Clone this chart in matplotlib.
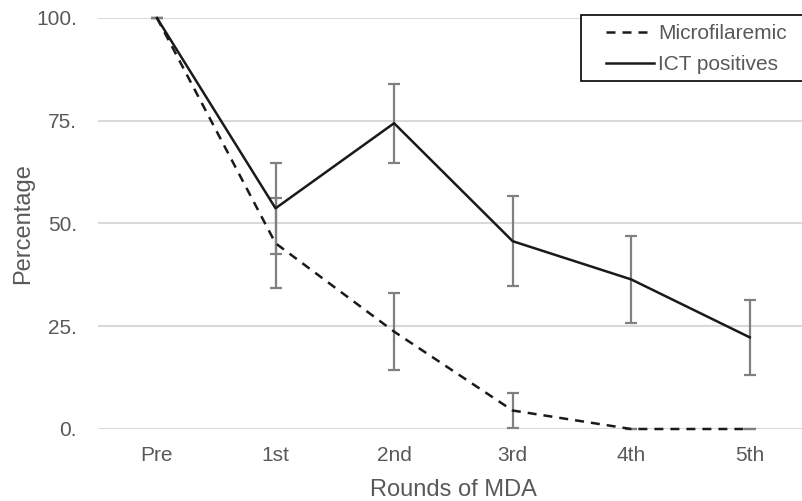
import matplotlib
matplotlib.use("Agg")
import matplotlib.pyplot as plt
from matplotlib.ticker import FuncFormatter
from matplotlib.patches import Rectangle

plt.rcParams['font.family'] = ['Liberation Sans', 'DejaVu Sans']

rounds = ["Pre", "1st", "2nd", "3rd", "4th", "5th"]
micro = [100, 45.2, 23.7, 4.5, 0, 0]
micro_err = [0, 10.9, 9.3, 4.3, 0, 0]
ict = [100, 53.7, 74.4, 45.7, 36.4, 22.3]
ict_err = [0, 11.0, 9.6, 11.0, 10.6, 9.2]
yticks = [0, 25, 50, 75, 100]

W, H = 802, 501
fig = plt.figure(figsize=(W / 100, H / 100), dpi=100)
ax = fig.add_axes([97.7 / W, (H - 429) / H, (809 - 97.7) / W, 411 / H])

x = list(range(len(rounds)))
txt = '#595959'
errc = '#808080'

ax.errorbar(x, micro, yerr=micro_err, fmt='none', ecolor=errc, elinewidth=1.6,
            capsize=4, capthick=1.6, zorder=2, clip_on=False)
ax.errorbar(x, ict, yerr=ict_err, fmt='none', ecolor=errc, elinewidth=1.6,
            capsize=4, capthick=1.6, zorder=2, clip_on=False)
ax.plot(x, micro, color='#1a1a1a', lw=1.8, ls=(0, (3.6, 2.8)), label='Microfilaremic',
        zorder=3, clip_on=False)
ax.plot(x, ict, color='#1a1a1a', lw=1.8, label='ICT positives', zorder=3, clip_on=False)

ax.set_xlim(-0.5, len(rounds) - 0.5)
ax.set_ylim(0, 100)
ax.set_xticks(x)
ax.set_xticklabels(rounds)
ax.set_yticks(yticks)
ax.yaxis.set_major_formatter(FuncFormatter(lambda v, p: f"{int(v)}."))
ax.grid(axis='y', color='#d9d9d9', lw=1.5, zorder=0)
ax.set_axisbelow(True)
for s in ax.spines.values():
    s.set_visible(False)
ax.tick_params(axis='both', length=0, labelsize=15, labelcolor=txt)
ax.tick_params(axis='y', pad=15)
ax.tick_params(axis='x', pad=12)
ax.set_xlabel("Rounds of MDA", fontsize=17, color=txt, labelpad=10)
ax.set_ylabel("Percentage", fontsize=17, color=txt, labelpad=1)

# legend frame
frame = Rectangle((581 / W, 1 - 81 / H), (806 - 581) / W, 66 / H,
                  transform=fig.transFigure, facecolor='white',
                  edgecolor='black', lw=1.2, zorder=5, clip_on=False)
ax.add_patch(frame)
leg = ax.legend(loc='upper left', bbox_to_anchor=(606 / W, 1 - 24 / H),
                bbox_transform=fig.transFigure, frameon=False,
                fontsize=15, handlelength=2.3, borderaxespad=0, borderpad=0,
                labelspacing=0.6, handletextpad=0.2)
leg.set_zorder(6)
for t in leg.get_texts():
    t.set_color(txt)

fig.savefig("out.png", dpi=100)
